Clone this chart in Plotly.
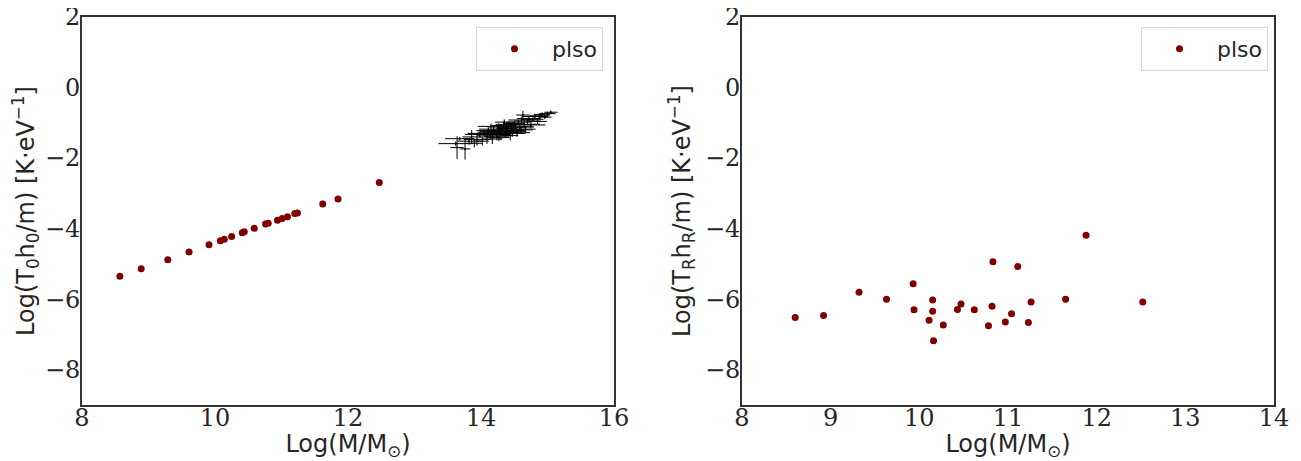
import plotly.graph_objects as go
from plotly.subplots import make_subplots

# ---- data: left panel (plso, T0 h0 / m) ----
left_mass = [8.57, 8.89, 9.29, 9.61, 9.91, 10.08, 10.14, 10.25, 10.41, 10.44, 10.59,
             10.76, 10.80, 10.94, 11.01, 11.09, 11.20, 11.24, 11.62, 11.85, 12.47]
left_val = [-5.35, -5.14, -4.88, -4.66, -4.46, -4.34, -4.30, -4.22, -4.12, -4.09, -3.99,
            -3.87, -3.85, -3.76, -3.71, -3.66, -3.57, -3.56, -3.30, -3.16, -2.69]

# ---- data: galaxy clusters with error bars (left panel, black) ----
cl_mass = [13.62, 13.68, 13.64, 13.76, 13.82, 13.86, 13.90, 13.94, 13.98, 14.02, 14.05,
           14.09, 14.11, 14.14, 14.17, 14.19, 14.21, 14.24, 14.26, 14.28, 14.30, 14.32,
           14.34, 14.36, 14.38, 14.40, 14.42, 14.44, 14.46, 14.48, 14.50, 14.52, 14.54,
           14.56, 14.58, 14.61, 14.63, 14.65, 14.67, 14.70, 14.72, 14.75, 14.78, 14.81,
           14.85, 14.88, 14.92, 14.96, 15.00, 15.05, 14.15, 14.27, 14.35, 14.47, 14.60]
cl_val = [-1.59, -1.45, -1.70, -1.74, -1.52, -1.40, -1.58, -1.47, -1.33, -1.52, -1.30,
          -1.40, -1.22, -1.35, -1.46, -1.18, -1.28, -1.38, -1.12, -1.25, -1.33, -1.20,
          -1.08, -1.30, -1.16, -1.24, -1.05, -1.36, -1.14, -1.22, -1.02, -1.10, -1.28,
          -0.98, -1.12, -0.92, -0.78, -1.04, -1.18, -0.95, -0.88, -1.06, -0.90, -0.82,
          -0.96, -0.80, -0.76, -0.84, -0.74, -0.70, -1.10, -1.42, -0.98, -1.30, -1.20]
cl_mass_err = [0.26, 0.22, 0.10, 0.08, 0.18, 0.14, 0.12, 0.20, 0.22, 0.10, 0.25,
               0.12, 0.18, 0.20, 0.15, 0.22, 0.26, 0.18, 0.16, 0.30, 0.14, 0.20,
               0.18, 0.24, 0.15, 0.28, 0.20, 0.12, 0.22, 0.18, 0.16, 0.26, 0.20,
               0.18, 0.22, 0.20, 0.10, 0.24, 0.15, 0.20, 0.18, 0.22, 0.16, 0.20,
               0.14, 0.15, 0.12, 0.10, 0.12, 0.10, 0.20, 0.16, 0.14, 0.20, 0.18]
cl_val_err = [0.06, 0.05, 0.32, 0.30, 0.10, 0.20, 0.12, 0.18, 0.08, 0.12, 0.10,
              0.20, 0.08, 0.10, 0.14, 0.09, 0.07, 0.12, 0.10, 0.08, 0.16, 0.06,
              0.09, 0.10, 0.12, 0.08, 0.07, 0.14, 0.09, 0.11, 0.08, 0.10, 0.12,
              0.07, 0.09, 0.08, 0.12, 0.10, 0.08, 0.09, 0.07, 0.10, 0.08, 0.06,
              0.08, 0.07, 0.06, 0.06, 0.05, 0.05, 0.08, 0.10, 0.08, 0.10, 0.09]

# ---- data: right panel (plso, TR hR / m) ----
right_mass = [8.60, 8.92, 9.32, 9.63, 9.93, 9.94, 10.15, 10.15, 10.11, 10.16, 10.27, 10.43,
              10.47, 10.62, 10.82, 10.83, 10.78, 10.97, 11.04, 11.11, 11.23, 11.26, 11.65,
              11.88, 12.52]
right_val = [-6.52, -6.46, -5.80, -6.00, -5.56, -6.30, -6.02, -6.34, -6.60, -7.18, -6.73,
             -6.29, -6.14, -6.30, -6.20, -4.94, -6.75, -6.65, -6.41, -5.07, -6.66, -6.08,
             -6.00, -4.19, -6.08]

series_name = "plso"
left_xticks = [8, 10, 12, 14, 16]
right_xticks = [8, 9, 10, 11, 12, 13, 14]
yticks = [-8, -6, -4, -2, 0, 2]

RED = "#800000"
TXT = "#262626"
OFF = 8  # default page body margin
W, H = 1301 - OFF, 461 - OFF
L = 82 - OFF
T = 17 - OFF
R = W - (1274 - OFF)
B = H - (405 - OFF)
pw = W - L - R
ph = H - T - B

fig = make_subplots(rows=1, cols=2)

fig.add_trace(go.Scatter(
    x=cl_mass, y=cl_val, mode="markers", showlegend=False,
    marker=dict(color="black", size=2),
    error_x=dict(type="data", array=cl_mass_err, color="black", thickness=1, width=0),
    error_y=dict(type="data", array=cl_val_err, color="black", thickness=1, width=0),
), row=1, col=1)

fig.add_trace(go.Scatter(
    x=left_mass, y=left_val, mode="markers", name=series_name,
    marker=dict(color=RED, size=7), legend="legend",
), row=1, col=1)

fig.add_trace(go.Scatter(
    x=right_mass, y=right_val, mode="markers", name=series_name,
    marker=dict(color=RED, size=7), legend="legend2",
), row=1, col=2)

axis_common = dict(
    showline=True, mirror=True, linecolor="#333333", linewidth=1.6,
    showgrid=False, zeroline=False, ticks="", ticklen=0, automargin=False,
    ticklabeloverflow="allow",
    tickfont=dict(family="DejaVu Serif", size=24, color=TXT),
    title_font=dict(family="DejaVu Sans", size=24, color=TXT),
)

fig.update_xaxes(**axis_common, ticklabelstandoff=-10)
fig.update_yaxes(**axis_common, ticklabelstandoff=-5)

legend_common = dict(
    y=1 - (27 - 17) / ph, xanchor="right", yanchor="top",
    bordercolor="#d6d6d6", borderwidth=1, bgcolor="white",
    font=dict(family="DejaVu Sans", size=22, color=TXT), itemwidth=65,
)

fig.update_layout(
    xaxis=dict(domain=[0, (614 - 82) / pw], range=[8, 16], tickvals=left_xticks,
               title=dict(text="Log(M/M<sub>⊙</sub>)", standoff=9)),
    xaxis2=dict(domain=[(742 - 82) / pw, 1], range=[8, 14], tickvals=right_xticks,
                title=dict(text="Log(M/M<sub>⊙</sub>)", standoff=9)),
    yaxis=dict(range=[-9, 2], tickvals=yticks,
               title=dict(text="Log(T<sub>0</sub>h<sub>0</sub>/m) [K·eV<sup>−1</sup>]", standoff=8)),
    yaxis2=dict(range=[-9, 2], tickvals=yticks,
                title=dict(text="Log(T<sub>R</sub>h<sub>R</sub>/m) [K·eV<sup>−1</sup>]", standoff=8)),
    width=W, height=H,
    margin=dict(l=L, r=R, t=T, b=B),
    paper_bgcolor="white", plot_bgcolor="white",
    legend=dict(x=(603 - 82) / pw, **legend_common),
    legend2=dict(x=(1268 - 82) / pw, **legend_common),
)

fig.write_html("out.html")
